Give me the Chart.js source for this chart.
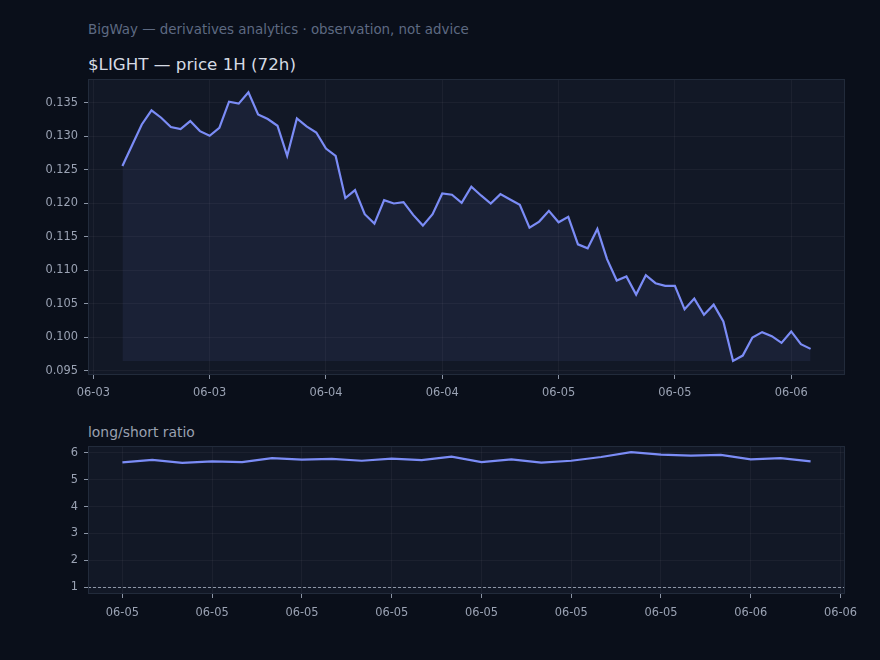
<!DOCTYPE html>
<html>
<head>
<meta charset="utf-8">
<script src="https://cdn.jsdelivr.net/npm/chart.js@4.4.1/dist/chart.umd.min.js"></script>
<style>
  html, body { margin: 0; padding: 0; background: #0a0f1a; }
  body { width: 880px; height: 660px; position: relative; overflow: hidden; font-family: "DejaVu Sans", sans-serif; }
  .txt { position: absolute; left: 88px; white-space: nowrap; line-height: 1; }
  #sub { top: 23px; font-size: 13.4px; color: #5e6a82; }
  #title { top: 56px; font-size: 16.7px; color: #d6dbe4; }
  #ratioLbl { top: 426px; font-size: 13.9px; color: #9aa1b0; }
  canvas { position: absolute; left: 0; }
  #priceChart { top: 70px; }
  #ratioChart { top: 440px; }
</style>
</head>
<body>
<div class="txt" id="sub">BigWay — derivatives analytics · observation, not advice</div>
<div class="txt" id="title">$LIGHT — price 1H (72h)</div>
<div class="txt" id="ratioLbl">long/short ratio</div>
<canvas id="priceChart" width="880" height="340"></canvas>
<canvas id="ratioChart" width="880" height="190"></canvas>
<script>
// price: hourly closes, first one at 06-03 03:00 (hours counted from 06-03 00:00)
const priceStartHour = 3;
const price = [
  0.1256, 0.1287, 0.1318, 0.1339, 0.1328, 0.1314, 0.1311, 0.1323, 0.1308, 0.1301,
  0.1313, 0.1352, 0.1349, 0.1366, 0.1333, 0.1326, 0.1316, 0.1271, 0.1327, 0.1315,
  0.1306, 0.1282, 0.1271, 0.1208, 0.1220, 0.1184, 0.1170, 0.1205, 0.1200, 0.1202,
  0.1183, 0.1167, 0.1184, 0.1215, 0.1213, 0.1201, 0.1225, 0.1212, 0.1200, 0.1214,
  0.1206, 0.1198, 0.1164, 0.1173, 0.1189, 0.1172, 0.1180, 0.1139, 0.1133, 0.1162,
  0.1117, 0.1085, 0.1091, 0.1064, 0.1093, 0.1081, 0.1077, 0.1077, 0.1042, 0.1058,
  0.1034, 0.1049, 0.1024, 0.0965, 0.0973, 0.1000, 0.1008, 0.1002, 0.0992, 0.1009,
  0.0990, 0.0983
];
const priceTickHours = [0, 12, 24, 36, 48, 60, 72];
const priceTickLabels = ['06-03', '06-03', '06-04', '06-04', '06-05', '06-05', '06-06'];
const priceYTicks = [0.095, 0.100, 0.105, 0.110, 0.115, 0.120, 0.125, 0.130, 0.135];

// long/short ratio: hourly, first one at 06-05 03:00 (hours counted from 06-05 00:00)
const ratioStartHour = 3;
const ratio = [
  5.65, 5.74, 5.63, 5.69, 5.66, 5.81, 5.75, 5.78, 5.71, 5.79,
  5.73, 5.86, 5.66, 5.76, 5.64, 5.71, 5.85, 6.03, 5.94, 5.90,
  5.93, 5.76, 5.81, 5.69
];
const ratioTickHours = [3, 6, 9, 12, 15, 18, 21, 24, 27];
const ratioTickLabels = ['06-05', '06-05', '06-05', '06-05', '06-05', '06-05', '06-05', '06-06', '06-06'];
const ratioYTicks = [1, 2, 3, 4, 5, 6];
const ratioRefLevel = 1;

const LINE = '#7b8cf6';
const PLOT_BG = '#121826';
const FRAME = '#222b3b';
const GRID = 'rgba(255,255,255,0.045)';
const TICK = '#8c95a6';
const LABEL = '#9ba3b4';
const FONT = { family: '"DejaVu Sans", sans-serif', size: 11.4 };

const framePlugin = {
  id: 'frame',
  beforeDraw(chart) {
    const { ctx, chartArea: a } = chart;
    ctx.save();
    ctx.fillStyle = PLOT_BG;
    ctx.fillRect(a.left, a.top, a.width, a.height);
    ctx.restore();
  },
  afterDatasetsDraw(chart, args, opts) {
    const { ctx, chartArea: a } = chart;
    ctx.save();
    if (opts.refLevel !== undefined) {
      const y = Math.round(chart.scales.y.getPixelForValue(opts.refLevel)) + 0.5;
      ctx.strokeStyle = '#8e97a8';
      ctx.lineWidth = 1;
      ctx.setLineDash([3, 2]);
      ctx.beginPath();
      ctx.moveTo(a.left, y);
      ctx.lineTo(a.right, y);
      ctx.stroke();
      ctx.setLineDash([]);
    }
    ctx.strokeStyle = FRAME;
    ctx.lineWidth = 1;
    ctx.strokeRect(a.left + 0.5, a.top + 0.5, a.width - 1, a.height - 1);
    ctx.restore();
  }
};

function toPoints(start, values) {
  return values.map((v, i) => ({ x: start + i, y: v }));
}

function xAxis(start, count, tickHours, tickLabels, height, pad) {
  const span = count - 1;
  return {
    type: 'linear',
    min: start - span * 0.05,
    max: start + span * 1.05,
    afterFit: s => { s.height = height; s.paddingLeft = 0; s.paddingRight = 0; },
    afterBuildTicks: s => { s.ticks = tickHours.map(v => ({ value: v })); },
    grid: { color: GRID, tickColor: TICK, tickLength: 4 },
    border: { display: false },
    ticks: {
      color: LABEL, font: FONT, padding: pad, maxRotation: 0, autoSkip: false,
      callback: (v, i) => tickLabels[i]
    }
  };
}

function yAxis(min, max, tickVals, fmt) {
  return {
    min, max,
    afterFit: s => { s.width = 88; s.paddingTop = 0; s.paddingBottom = 0; },
    afterBuildTicks: s => { s.ticks = tickVals.map(v => ({ value: v })); },
    grid: { color: GRID, tickColor: TICK, tickLength: 4 },
    border: { display: false },
    ticks: { color: LABEL, font: FONT, padding: 6, callback: fmt }
  };
}

new Chart(document.getElementById('priceChart'), {
  type: 'line',
  data: {
    datasets: [{
      data: toPoints(priceStartHour, price),
      borderColor: LINE,
      borderWidth: 2.2,
      pointRadius: 0,
      tension: 0,
      fill: { value: Math.min(...price) },
      backgroundColor: 'rgba(124,140,248,0.08)'
    }]
  },
  options: {
    responsive: false,
    animation: false,
    devicePixelRatio: 1,
    layout: { padding: { top: 9, right: 35, left: 0, bottom: 0 } },
    scales: {
      x: xAxis(priceStartHour, price.length, priceTickHours, priceTickLabels, 35, 7),
      y: yAxis(0.0944, 0.13858, priceYTicks, v => v.toFixed(3))
    },
    plugins: { legend: { display: false }, tooltip: { enabled: false }, frame: {} }
  },
  plugins: [framePlugin]
});

new Chart(document.getElementById('ratioChart'), {
  type: 'line',
  data: {
    datasets: [{
      data: toPoints(ratioStartHour, ratio),
      borderColor: LINE,
      borderWidth: 2.2,
      pointRadius: 0,
      tension: 0,
      fill: false
    }]
  },
  options: {
    responsive: false,
    animation: false,
    devicePixelRatio: 1,
    layout: { padding: { top: 6, right: 35, left: 0, bottom: 0 } },
    scales: {
      x: xAxis(ratioStartHour, ratio.length, ratioTickHours, ratioTickLabels, 36, 8),
      y: yAxis(0.74, 6.26, ratioYTicks, v => String(v))
    },
    plugins: { legend: { display: false }, tooltip: { enabled: false }, frame: { refLevel: ratioRefLevel } }
  },
  plugins: [framePlugin]
});
</script>
</body>
</html>
